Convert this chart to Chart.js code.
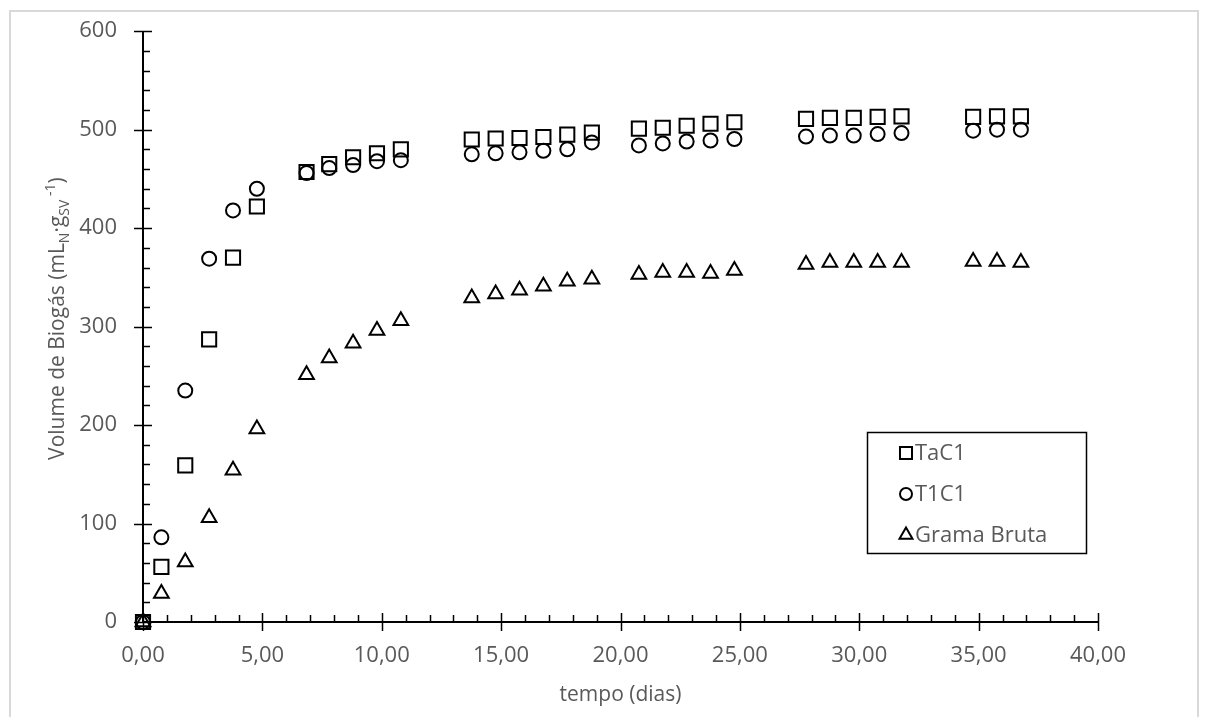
<!DOCTYPE html>
<html>
<head>
<meta charset="utf-8">
<script src="https://cdn.jsdelivr.net/npm/chart.js@4"></script>
<style>
  body { margin: 0; background: #fff; }
  #wrap { position: relative; width: 1208px; height: 717px; overflow: hidden; }
  #frame { position: absolute; left: 9px; top: 10px; width: 1186px; height: 720px; border: 2px solid #d9d9d9; }
  #myChart { position: absolute; left: 0; top: 0; }
</style>
</head>
<body>
<div id="wrap">
  <div id="frame"></div>
  <canvas id="myChart" width="1208" height="717"></canvas>
</div>
<script>
const days = [0, 0.77, 1.77, 2.77, 3.77, 4.77, 6.85, 7.8, 8.8, 9.8, 10.8, 13.77, 14.77, 15.77, 16.77, 17.77, 18.8,
    20.77, 21.77, 22.77, 23.77, 24.77, 27.77, 28.77, 29.77, 30.77, 31.77, 34.77, 35.77, 36.77]
const tac1 = [0, 56, 159, 287, 370, 422, 457, 465, 472, 476, 480, 490, 491, 491.5, 492.5, 495, 497,
    501, 502, 504, 506, 507.5, 511, 512, 512, 513, 513.5, 513, 513.5, 513.5]
const t1c1 = [0, 86, 235, 369, 418, 440, 456, 461, 464, 468, 469, 475, 476, 477, 478.5, 480, 487,
    484, 486, 488, 489, 490.5, 493, 494, 494, 495.5, 496.5, 499, 500, 500]
const grama = [0, 29, 61, 106, 154, 196, 251, 268, 283, 296, 306, 329, 333, 337, 341, 346, 348,
    353, 355, 355, 354, 357, 363, 365, 365, 365, 365, 366, 366, 365]
const seriesNames = ['TaC1', 'T1C1', 'Grama Bruta']
const xTicks = [0, 5, 10, 15, 20, 25, 30, 35, 40]
const yTicks = [0, 100, 200, 300, 400, 500, 600]

const FONT = '"Open Sans", sans-serif'
const GREY = '#595959'

function pts(ys) {
    return days.map((d, i) => ({ x: d, y: ys[i] }))
}

// axis lines + crossing major ticks + inner minor ticks
const axisTicks = {
    id: 'axisTicks',
    beforeDatasetsDraw(chart) {
        const ctx = chart.ctx, a = chart.chartArea
        const xs = chart.scales.x, ys = chart.scales.y
        ctx.save()
        ctx.strokeStyle = '#000'
        ctx.lineWidth = 2
        ctx.beginPath()
        ctx.moveTo(a.left, a.top); ctx.lineTo(a.left, a.bottom); ctx.lineTo(a.right, a.bottom)
        ctx.stroke()
        ctx.lineWidth = 1.5
        ctx.beginPath()
        for (let v = 0; v <= 600; v += 20) {
            const py = Math.round(ys.getPixelForValue(v)) + 0.5
            if (v % 100 === 0) { ctx.moveTo(a.left - 9, py); ctx.lineTo(a.left + 9, py) }
            else { ctx.moveTo(a.left, py); ctx.lineTo(a.left + 7, py) }
        }
        for (let v = 0; v <= 40; v += 1) {
            const px = Math.round(xs.getPixelForValue(v)) + 0.5
            if (v % 5 === 0) { ctx.moveTo(px, a.bottom - 9); ctx.lineTo(px, a.bottom + 9) }
            else { ctx.moveTo(px, a.bottom); ctx.lineTo(px, a.bottom - 7) }
        }
        ctx.stroke()
        ctx.restore()
    }
}

// y title with sub/superscripts, x title, boxed legend
const extras = {
    id: 'extras',
    afterDraw(chart) {
        const ctx = chart.ctx, a = chart.chartArea
        ctx.save()
        ctx.fillStyle = GREY
        ctx.textBaseline = 'alphabetic'

        // x title
        ctx.font = '21px ' + FONT
        ctx.textAlign = 'center'
        ctx.fillText('tempo (dias)', (a.left + a.right) / 2, 701)

        // y title
        const parts = [
            ['Volume de Biogás (mL', 0, 21], ['N', 5, 14], ['·g', 0, 21],
            ['SV', 5, 14], [' -1', -9, 14], [')', 0, 21]
        ]
        let total = 0
        parts.forEach(p => { ctx.font = p[2] + 'px ' + FONT; total += ctx.measureText(p[0]).width })
        ctx.translate(64, (a.top + a.bottom) / 2 - 8)
        ctx.rotate(-Math.PI / 2)
        ctx.textAlign = 'left'
        let cx = -total / 2
        parts.forEach(p => {
            ctx.font = p[2] + 'px ' + FONT
            ctx.fillText(p[0], cx, p[1])
            cx += ctx.measureText(p[0]).width
        })
        ctx.restore()

        // legend
        ctx.save()
        const bx = 867, by = 432, bw = 219, bh = 121
        ctx.fillStyle = '#fff'
        ctx.fillRect(bx, by, bw, bh)
        ctx.strokeStyle = '#000'
        ctx.lineWidth = 1.5
        ctx.strokeRect(bx + 0.5, by + 0.5, bw, bh)
        const rows = [453, 494, 535]
        chart.data.datasets.forEach((ds, i) => {
            ctx.fillStyle = 'rgba(0,0,0,0)'
            ctx.strokeStyle = '#000'
            ctx.lineWidth = 2
            Chart.helpers.drawPoint(ctx, {
                pointStyle: ds.pointStyle, radius: ds.pointStyle === 'rect' ? 8.5 : (ds.pointStyle === 'circle' ? 6 : 7.5),
                borderWidth: 2
            }, 906, rows[i])
            ctx.fillStyle = GREY
            ctx.font = '22px ' + FONT
            ctx.textAlign = 'left'
            ctx.textBaseline = 'middle'
            ctx.fillText(ds.label, 915, rows[i] + 1)
        })
        ctx.restore()
    }
}

const mk = (label, ys, style, r) => ({
    label: label,
    data: pts(ys),
    pointStyle: style,
    pointRadius: r,
    pointHoverRadius: r,
    pointBorderWidth: 2,
    borderColor: '#000',
    backgroundColor: 'rgba(0,0,0,0)',
    showLine: false,
    clip: false
})

document.addEventListener("DOMContentLoaded", function () {
    var ctx = document.getElementById('myChart').getContext('2d');
    var myChart = new Chart(ctx, {
        type: 'scatter',
        data: {
            datasets: [
                mk(seriesNames[0], tac1, 'rect', 10),
                mk(seriesNames[1], t1c1, 'circle', 7),
                mk(seriesNames[2], grama, 'triangle', 8.5)
            ]
        },
        options: {
            responsive: false,
            animation: false,
            layout: { padding: { top: 27, right: 110, left: 0, bottom: 0 } },
            scales: {
                x: {
                    type: 'linear', min: 0, max: 40,
                    afterFit: s => { s.height = 95 },
                    afterBuildTicks: s => { s.ticks = xTicks.map(v => ({ value: v })) },
                    grid: { display: false },
                    border: { display: false },
                    ticks: {
                        color: GREY, padding: 13,
                        font: { family: FONT, size: 22 },
                        callback: v => v.toFixed(2).replace('.', ',')
                    }
                },
                y: {
                    type: 'linear', min: 0, max: 600,
                    afterFit: s => { s.width = 143 },
                    afterBuildTicks: s => { s.ticks = yTicks.map(v => ({ value: v })) },
                    grid: { display: false },
                    border: { display: false },
                    ticks: {
                        color: GREY, padding: 18,
                        font: { family: FONT, size: 22 }
                    }
                }
            },
            plugins: {
                legend: { display: false },
                tooltip: { enabled: false }
            }
        },
        plugins: [axisTicks, extras]
    });
});
</script>
</body>
</html>
